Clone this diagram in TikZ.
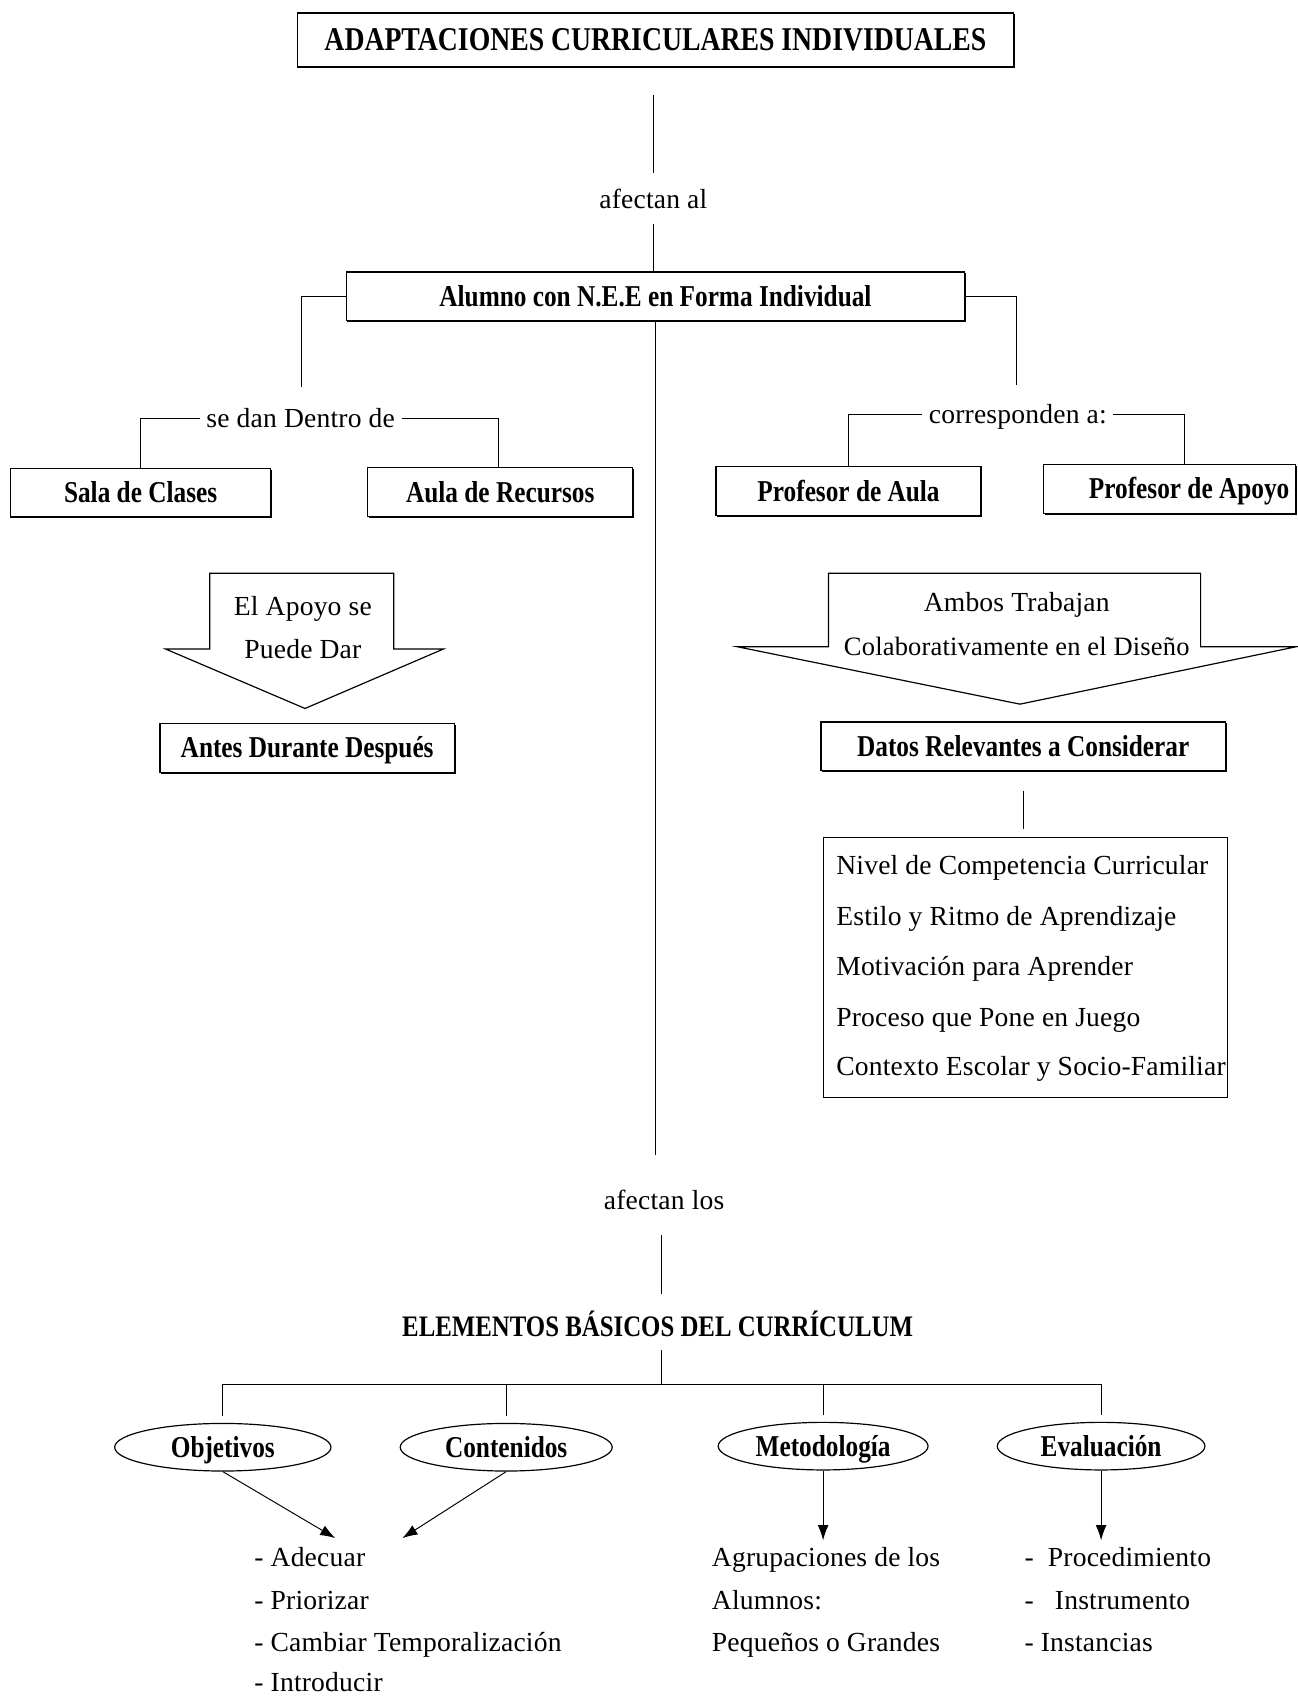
\documentclass[tikz,border=0pt]{standalone}
\usepackage{fontspec}
\setmainfont[LetterSpace=0.7]{Liberation Serif}
\newfontfamily\condbf[FakeStretch=0.835]{Liberation Serif Bold}
\usetikzlibrary{shapes.geometric,shadows,arrows.meta}

\newcommand\regfont{\rmfamily\fontsize{25.5}{28}\selectfont}
\newcommand\boxfont{\condbf\fontsize{28}{30}\selectfont}
\newcommand\headfont{\condbf\fontsize{30.7}{33}\selectfont}

\tikzset{
  lbox/.style={draw, fill=white, line width=1.1pt, minimum height=45pt, inner sep=6pt,
    font=\boxfont, text height=18.5pt, text depth=0pt,
    drop shadow={shadow xshift=1.2pt, shadow yshift=-1.2pt, opacity=1, fill=black}},
  oval/.style={ellipse, draw, line width=1.1pt, minimum width=196pt, minimum height=44pt,
    inner sep=0pt, font=\boxfont, text height=18.5pt, text depth=0pt},
  lab/.style={font=\regfont, text height=17.3pt, text depth=0pt, inner sep=6pt},
  item/.style={lab, anchor=west, inner sep=0pt},
  conn/.style={line width=0.9pt},
  arr/.style={conn, -{Latex[length=14pt,width=10pt]}},
  bigarrow/.style={draw, line width=1.1pt}
}

\begin{document}
\begin{tikzpicture}[x=1pt, y=-1pt]
\useasboundingbox (0,0) rectangle (1200,1568);

\node[lbox, minimum width=662pt, minimum height=50pt, font=\headfont, text height=20.3pt] (acis) at (606,37) {ADAPTACIONES CURRICULARES INDIVIDUALES};
\coordinate (a1) at (604,88);
\coordinate (a2) at (604,160);
\coordinate (a3) at (604,207);
\draw[conn] (a1) -- (a2);
\node[lab] (afec1) at (604,184) {afectan al};
\node[lbox, minimum width=572pt] (alumno) at (606,274) {Alumno con N.E.E en Forma Individual};
\draw[conn] (a3) -- (a3 |- alumno.north);

% izquierda
\coordinate (l1) at (279,358);
\draw[conn] (alumno.west) -| (l1);
\node[lab] (dentro) at (278,387) {se dan Dentro de};
\node[lbox, minimum width=240pt] (sala) at (130,455.5) {Sala de Clases};
\node[lbox, minimum width=245pt] (aula) at (462.5,455) {Aula de Recursos};
\draw[conn] (dentro.west) -| (sala.north);
\draw[conn] (dentro.east) -| ([xshift=-2pt]aula.north);

\draw[bigarrow] (194,530) -- (364,530) -- (364,600) -- (410,600) -- (282,655) -- (153,600) -- (194,600) -- cycle;
\node[lab] (apoyo1) at (280,560) {El Apoyo se};
\node[lab] (apoyo2) at (280,600) {Puede Dar};
\node[lbox, minimum width=272pt] (momentos) at (284,691.5) {Antes Durante Después};

% derecha
\coordinate (r1) at (940,356);
\draw[conn] (alumno.east) -| (r1);
\node[lab] (corr) at (941,383) {corresponden a:};
\node[lbox, minimum width=245pt] (paula) at (784.5,454) {Profesor de Aula};
\node[lbox] (papoyo) at (1081.5,452) {\makebox[221pt][r]{Profesor de Apoyo}};
\draw[conn] (corr.west) -| (paula.north);
\draw[conn] (corr.east) -| ([xshift=13.5pt]papoyo.north);

\draw[bigarrow] (766,530) -- (1110,530) -- (1110,598) -- (1198,598) -- (943,651) -- (682,598) -- (766,598) -- cycle;
\node[lab] (ambos1) at (940,557) {Ambos Trabajan};
\node[lab, font=\rmfamily\fontsize{24.5}{27}\selectfont] (ambos2) at (940,597) {Colaborativamente en el Diseño};
\node[lbox, minimum width=374pt] (datos) at (946,690) {Datos Relevantes a Considerar};
\node[draw, line width=1.1pt, minimum width=374pt, minimum height=241pt] (lista) at (948,894.5) {};
\draw[conn] ([yshift=-18pt]datos.south) -- ([yshift=7pt]datos.south |- lista.north);
\node[item] (d1) at (773,800) {Nivel de Competencia Curricular};
\node[item] (d2) at (773,847) {Estilo y Ritmo de Aprendizaje};
\node[item] (d3) at (773,893) {Motivación para Aprender};
\node[item] (d4) at (773,940) {Proceso que Pone en Juego};
\node[item] (d5) at (773,986) {Contexto Escolar y Socio-Familiar};

% centro
\coordinate (m1) at (606,1068);
\draw[conn] (alumno.south) -- (m1);
\node[lab] (afec2) at (614,1110) {afectan los};
\coordinate (b1) at (612,1142);
\coordinate (b2) at (612,1196);
\draw[conn] (b1) -- (b2);
\node[font=\condbf\fontsize{27.5}{30}\selectfont, text height=18pt, text depth=0pt, inner sep=0pt] (elem) at (608,1227) {ELEMENTOS BÁSICOS DEL CURRÍCULUM};
\coordinate (e1) at (612,1248);
\coordinate (bus) at (612,1280);
\draw[conn] (e1) -- (bus);

\node[oval, minimum width=200pt] (obj) at (206,1338) {Objetivos};
\node[oval] (cont) at (468,1338) {Contenidos};
\node[oval, minimum width=194pt] (met) at (761,1337) {Metodología};
\node[oval, minimum width=192pt] (eva) at (1018,1337) {Evaluación};
\draw[conn] ([yshift=6pt]obj.north) -- (obj.north |- bus) -- (eva.north |- bus) -- ([yshift=6pt]eva.north);
\draw[conn] ([yshift=6pt]cont.north) -- (cont.north |- bus);
\draw[conn] ([yshift=6pt]met.north) -- (met.north |- bus);

\coordinate (o1) at (310,1422);
\coordinate (c1) at (372,1422);
\coordinate (m2) at (761,1424);
\coordinate (e2) at (1020,1424);
\draw[arr] (obj.south) -- (o1);
\draw[arr] (cont.south) -- (c1);
\draw[arr] (met.south) -- (met.south |- m2);
\draw[arr] (eva.south) -- (eva.south |- e2);

\node[item] (adec) at (235,1440) {- Adecuar};
\node[item] (prio) at (235,1479) {- Priorizar};
\node[item] (camb) at (235,1518) {- Cambiar Temporalización};
\node[item] (intr) at (235,1555) {- Introducir};
\node[item] (agru1) at (658,1440) {Agrupaciones de los};
\node[item] (agru2) at (658,1479) {Alumnos:};
\node[item] (agru3) at (658,1518) {Pequeños o Grandes};
\node[item] (proc) at (947,1440) {-~~Procedimiento};
\node[item] (inst) at (947,1479) {-~~~Instrumento};
\node[item] (inca) at (947,1518) {- Instancias};
\end{tikzpicture}
\end{document}
